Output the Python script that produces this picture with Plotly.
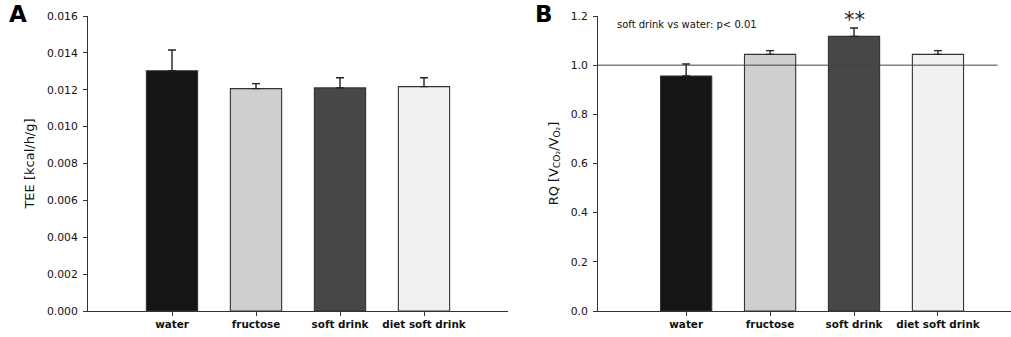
import plotly.graph_objects as go
from plotly.subplots import make_subplots

categories = ["water", "fructose", "soft drink", "diet soft drink"]
bar_colors = ["#151515", "#cfcfcf", "#474747", "#f0f0f0"]

tee_mean = [0.01303, 0.01206, 0.01210, 0.01217]
tee_upper = [0.01416, 0.01233, 0.01265, 0.01265]

rq_mean = [0.956, 1.044, 1.117, 1.044]
rq_upper = [1.005, 1.059, 1.151, 1.059]
rq_reference = 1.0

tee_ticks = [0, 0.002, 0.004, 0.006, 0.008, 0.010, 0.012, 0.014, 0.016]
rq_ticks = [0.0, 0.2, 0.4, 0.6, 0.8, 1.0, 1.2]

FONT = "DejaVu Sans"

fig = make_subplots(rows=1, cols=2)

def add_bars(means, uppers, col):
    fig.add_trace(go.Bar(
        x=categories, y=means,
        marker=dict(color=bar_colors, line=dict(color="#333333", width=1.1)),
        error_y=dict(type="data", symmetric=False,
                     array=[u - m for u, m in zip(uppers, means)],
                     arrayminus=[0] * len(means),
                     color="#222222", thickness=1.4, width=4),
        showlegend=False,
    ), row=1, col=col)

add_bars(tee_mean, tee_upper, 1)
add_bars(rq_mean, rq_upper, 2)

axis_common = dict(showline=True, linecolor="#333333", linewidth=1,
                   ticks="outside", ticklen=4, tickcolor="#333333",
                   showgrid=False, zeroline=False)

tick_font = dict(family=FONT, size=10.8, color="#111111")
cat_font = dict(family=FONT, size=10.4, color="#111111")

fig.update_layout(
    width=1011, height=337,
    margin=dict(l=0, r=0, t=16, b=26),
    paper_bgcolor="white", plot_bgcolor="white",
    bargap=0.39,
    font=dict(family=FONT, size=10, color="#111111"),
    xaxis=dict(domain=[88 / 1011, 508 / 1011], type="category", range=[-1, 4],
               tickfont=cat_font, **axis_common),
    xaxis2=dict(domain=[598 / 1011, 1.0], type="category", range=[-1.05, 3.87],
                tickfont=cat_font, **axis_common),
    yaxis=dict(range=[0, 0.016], tickvals=tee_ticks, tickformat=".3f",
               ticklabelstandoff=3, tickfont=tick_font,
               title=dict(text="TEE [kcal/h/g]", font=dict(size=13), standoff=9),
               **axis_common),
    yaxis2=dict(range=[0, 1.2], tickvals=rq_ticks, tickformat=".1f",
                ticklabelstandoff=3, tickfont=tick_font,
                title=dict(text="RQ [V<sub>CO₂</sub>/V<sub>O₂</sub>]",
                           font=dict(size=13), standoff=9),
                **axis_common),
)

# bold category labels
fig.update_xaxes(tickvals=categories, ticktext=[f"<b>{c}</b>" for c in categories])

# reference line at RQ = 1.0
fig.add_shape(type="line", xref="x2", yref="y2", x0=-1.05, x1=3.71,
              y0=rq_reference, y1=rq_reference,
              line=dict(color="#444444", width=1))

# significance annotation
fig.add_annotation(xref="x2", yref="y2", x=categories[2], y=rq_upper[2],
                   text="**", showarrow=False, yanchor="bottom", yshift=-6,
                   font=dict(family=FONT, size=21, color="#222222"))
fig.add_annotation(xref="paper", yref="paper", x=(615 - 598) / (1011 - 598) * (1 - 598 / 1011) + 598 / 1011,
                   y=1.0, xanchor="left", yanchor="middle", yshift=-8,
                   text="soft drink vs water: p< 0.01", showarrow=False,
                   font=dict(family=FONT, size=10, color="#111111"))

# panel labels
fig.add_annotation(xref="paper", yref="paper", x=18 / 1011, y=1.0, yshift=2,
                   text="<b>A</b>", showarrow=False, xanchor="center", yanchor="middle",
                   font=dict(family=FONT, size=23, color="#000000"))
fig.add_annotation(xref="paper", yref="paper", x=544 / 1011, y=1.0, yshift=2,
                   text="<b>B</b>", showarrow=False, xanchor="center", yanchor="middle",
                   font=dict(family=FONT, size=23, color="#000000"))

fig.write_html("out.html")
